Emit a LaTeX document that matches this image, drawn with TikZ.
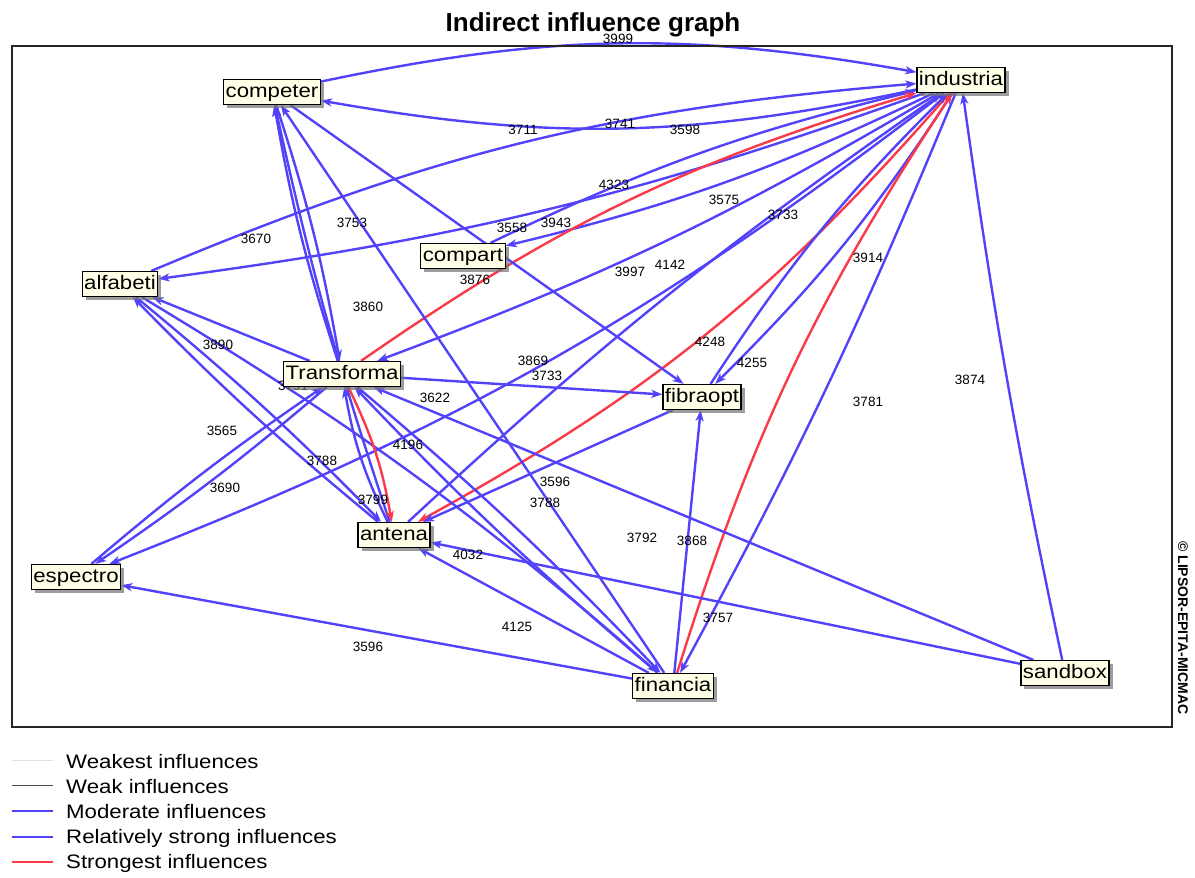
\documentclass[tikz,border=0pt]{standalone}
\usepackage{fontspec}
\setmainfont{Liberation Sans}
\newfontfamily\widesans{Liberation Sans}[FakeStretch=1.14]
\usetikzlibrary{arrows.meta,shadows}
\definecolor{edgeblue}{RGB}{82,66,250}
\definecolor{edgered}{RGB}{250,58,72}
\definecolor{boxfill}{RGB}{255,255,232}
\pgfdeclarelayer{edges}
\pgfsetlayers{edges,main}
\begin{document}
\begin{tikzpicture}[x=1pt,y=-1pt,
  var/.style={draw=black, line width=1.2pt, fill=boxfill, inner xsep=2pt, inner ysep=1pt,
    minimum height=25pt, font=\widesans\fontsize{19.5}{22}\selectfont,
    text height=14pt, text depth=4pt,
    drop shadow={shadow xshift=3.5pt, shadow yshift=-3.5pt, fill=black!55, opacity=0.7}},
  infl/.style={draw=edgeblue, line width=2.4pt, -{Stealth[length=11pt,width=8pt,inset=3pt]}},
  strong/.style={infl, draw=edgered},
  val/.style={font=\fontsize{13.5}{15}\selectfont, inner sep=0pt},
  legtext/.style={font=\widesans\fontsize{19.5}{22}\selectfont, anchor=west, inner sep=0pt},
]
\useasboundingbox (0,0) rectangle (1195,878);

% title and frame
\node[font=\bfseries\fontsize{26}{30}\selectfont, anchor=base] (title) at (593,31) {Indirect influence graph};
\draw[line width=1.6pt, black!85] (12,46) rectangle (1172,727);
\node[rotate=-90, font=\bfseries\fontsize{14}{16}\selectfont, inner sep=0pt] (copy) at (1183,628) {© LIPSOR-EPITA-MICMAC};

% variables
\node[var] (industria)  at (961,80)  {industria};
\node[var] (competer)   at (272,92)  {competer};
\node[var] (alfabeti)   at (120,284) {alfabeti};
\node[var] (compart)    at (463,256) {compart};
\node[var] (Transforma) at (342,374) {Transforma};
\node[var] (fibraopt)   at (702,397) {fibraopt};
\node[var] (antena)     at (394,535) {antena};
\node[var] (espectro)   at (76,577)  {espectro};
\node[var] (financia)   at (673,686) {financia};
\node[var] (sandbox)    at (1065,673) {sandbox};

\begin{pgfonlayer}{edges}
% influences on and from industria
\draw[infl] (competer) to[bend left=11] (industria);
\draw[infl] (industria) to[bend left=11] (competer);
\draw[infl] (alfabeti) to[bend left=9] (industria);
\draw[infl] (industria) to[bend left=6] (alfabeti);
\draw[infl] (compart) to[bend left=6] (industria);
\draw[infl] (industria) to[bend left=6] (compart);
\draw[strong] (Transforma) to[bend left=9] (industria);
\draw[infl] (industria) to[bend left=5] (Transforma);
\draw[strong] (industria) to[bend left=10] (antena);
\draw[infl] (antena) to[bend left=4] (industria);
\draw[infl] (industria) to[bend left=6] (fibraopt);
\draw[infl] (fibraopt) to[bend left=6] (industria);
\draw[strong] (financia) to[bend left=8] (industria);
\draw[infl] (industria) to[bend left=3] (financia);
\draw[infl] (sandbox) to[bend left=2] (industria);
\draw[infl] (industria) to[bend left=8] (espectro);
% competer
\draw[infl] (competer) to[bend left=4] (Transforma);
\draw[infl] (Transforma) to[bend left=4] (competer);
\draw[infl] (antena) to[bend left=3] (competer);
\draw[infl] (financia) to (competer);
\draw[infl] (competer) to (fibraopt);
% alfabeti
\draw[infl] (Transforma) to (alfabeti);
\draw[infl] (alfabeti) to[bend left=3] (antena);
\draw[infl] (antena) to[bend left=3] (alfabeti);
\draw[infl] (alfabeti) to[bend left=5] (financia);
% Transforma
\draw[infl] (Transforma) to (fibraopt);
\draw[infl] (Transforma) to[bend left=3] (espectro);
\draw[infl] (espectro) to[bend left=3] (Transforma);
\draw[strong] (Transforma) to[bend left=8] (antena);
\draw[infl] (antena) to[bend left=8] (Transforma);
\draw[infl] (financia) to[bend left=3] (Transforma);
\draw[infl] (Transforma) to[bend left=3] (financia);
\draw[infl] (sandbox) to (Transforma);
% remaining links
\draw[infl] (financia) to (fibraopt);
\draw[infl] (fibraopt) to (antena);
\draw[infl] (sandbox) to (antena);
\draw[infl] (financia) to (antena);
\draw[infl] (financia) to (espectro);
% value partly covered by the Transforma box
\node[val, anchor=west] (vhid) at (278,386) {3791};
\end{pgfonlayer}

% influence values
\node[val] (v1)  at (618,39)  {3999};
\node[val] (v2)  at (523,130) {3711};
\node[val] (v3)  at (620,124) {3741};
\node[val] (v4)  at (685,130) {3598};
\node[val] (v5)  at (614,185) {4323};
\node[val] (v6)  at (724,200) {3575};
\node[val] (v7)  at (783,215) {3733};
\node[val] (v8)  at (256,239) {3670};
\node[val] (v9)  at (352,223) {3753};
\node[val] (v10) at (512,228) {3558};
\node[val] (v11) at (556,223) {3943};
\node[val] (v12) at (475,280) {3876};
\node[val] (v13) at (630,272) {3997};
\node[val] (v14) at (670,265) {4142};
\node[val] (v15) at (868,258) {3914};
\node[val] (v16) at (368,307) {3860};
\node[val] (v17) at (218,345) {3890};
\node[val] (v18) at (710,342) {4248};
\node[val] (v19) at (752,363) {4255};
\node[val] (v20) at (533,361) {3869};
\node[val] (v21) at (547,376) {3733};
\node[val] (v22) at (970,380) {3874};
\node[val] (v23) at (868,402) {3781};
\node[val] (v24) at (435,398) {3622};
\node[val] (v25) at (222,431) {3565};
\node[val] (v26) at (408,445) {4196};
\node[val] (v27) at (322,461) {3788};
\node[val] (v28) at (225,488) {3690};
\node[val] (v29) at (555,482) {3596};
\node[val] (v30) at (545,503) {3788};
\node[val] (v31) at (373,500) {3799};
\node[val] (v32) at (468,555) {4032};
\node[val] (v33) at (642,538) {3792};
\node[val] (v34) at (692,541) {3868};
\node[val] (v35) at (718,618) {3757};
\node[val] (v36) at (517,627) {4125};
\node[val] (v37) at (368,647) {3596};

% legend
\draw[black!12, line width=1pt] (12,760) -- (53,760);
\node[legtext] (lg1) at (66,762) {Weakest influences};
\draw[black!70, line width=1pt] (12,785) -- (53,785);
\node[legtext] (lg2) at (66,787) {Weak influences};
\draw[edgeblue, line width=1.3pt] (12,811) -- (53,811);
\node[legtext] (lg3) at (66,812) {Moderate influences};
\draw[edgeblue, line width=2.4pt] (12,837) -- (53,837);
\node[legtext] (lg4) at (66,838) {Relatively strong influences};
\draw[edgered, line width=2.4pt] (12,862) -- (53,862);
\node[legtext] (lg5) at (66,863) {Strongest influences};
\end{tikzpicture}
\end{document}
